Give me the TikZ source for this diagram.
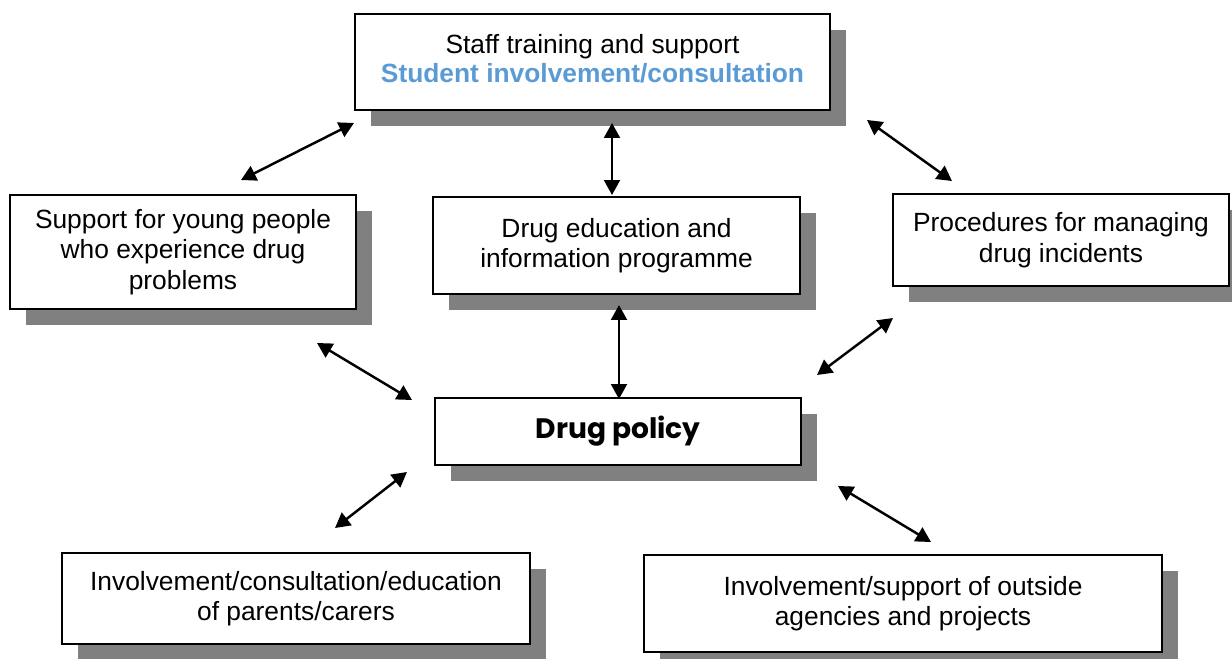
\documentclass[tikz,border=0pt]{standalone}
\usepackage{fontspec}
\setmainfont{Liberation Sans}
\newfontfamily\policyfont{Poppins}
\usetikzlibrary{arrows.meta,shadows}
\definecolor{shadowgray}{HTML}{808080}
\definecolor{studentblue}{HTML}{5B9BD5}
\tikzset{
  boxnode/.style={draw=black, line width=1.1pt, fill=white, align=center, inner sep=0pt,
    font=\fontsize{15pt}{17.3pt}\selectfont,
    drop shadow={shadow xshift=0.32cm, shadow yshift=-0.32cm, fill=shadowgray, opacity=1}},
  link/.style={line width=1.4pt, {Triangle[length=8.5pt,width=9pt]}-{Triangle[length=8.5pt,width=9pt]}}
}
\begin{document}
\begin{tikzpicture}[x=0.02cm, y=-0.02cm]
\useasboundingbox (0,0) rectangle (1232,659);
% boxes
\node[boxnode, minimum width=475*0.02cm, minimum height=96*0.02cm] (top) at (592.5,62)
  {\raisebox{7.5pt}{\begin{tabular}{@{}c@{}}Staff training and support\\[-0.5pt]
   \textcolor{studentblue}{\bfseries Student involvement/consultation}\end{tabular}}};
\node[boxnode, minimum width=346*0.02cm, minimum height=114*0.02cm] (left) at (183,252)
  {Support for young people\\who experience drug\\problems};
\node[boxnode, minimum width=367*0.02cm, minimum height=97*0.02cm] (mid) at (616.5,245.5)
  {Drug education and\\information programme};
\node[boxnode, minimum width=336*0.02cm, minimum height=92*0.02cm] (right) at (1061,240)
  {Procedures for managing\\drug incidents};
\node[boxnode, minimum width=366*0.02cm, minimum height=67*0.02cm] (policy) at (618,431.5)
  {\policyfont\bfseries\fontsize{16pt}{18pt}\selectfont Drug policy};
\node[boxnode, minimum width=468*0.02cm, minimum height=91*0.02cm] (bl) at (296,598.5)
  {Involvement/consultation/education\\of parents/carers};
\node[boxnode, minimum width=518*0.02cm, minimum height=97*0.02cm] (br) at (903,603.5)
  {Involvement/support of outside\\agencies and projects};
% arrow end points
\coordinate (a1s) at (354,123); \coordinate (a1e) at (241,180);
\coordinate (a2s) at (612,123); \coordinate (a2e) at (612,195);
\coordinate (a3s) at (867,120); \coordinate (a3e) at (952,181);
\coordinate (a4s) at (619,305); \coordinate (a4e) at (619,399);
\coordinate (a5s) at (317,343); \coordinate (a5e) at (412,400);
\coordinate (a6s) at (893,318); \coordinate (a6e) at (817,375);
\coordinate (a7s) at (407,472); \coordinate (a7e) at (335,528);
\coordinate (a8s) at (838,486); \coordinate (a8e) at (931,542);
\draw[link] (a1s) -- (a1e);
\draw[link] (a2s) -- (a2e);
\draw[link] (a3s) -- (a3e);
\draw[link] (a4s) -- (a4e);
\draw[link] (a5s) -- (a5e);
\draw[link] (a6s) -- (a6e);
\draw[link] (a7s) -- (a7e);
\draw[link] (a8s) -- (a8e);
\end{tikzpicture}
\end{document}
